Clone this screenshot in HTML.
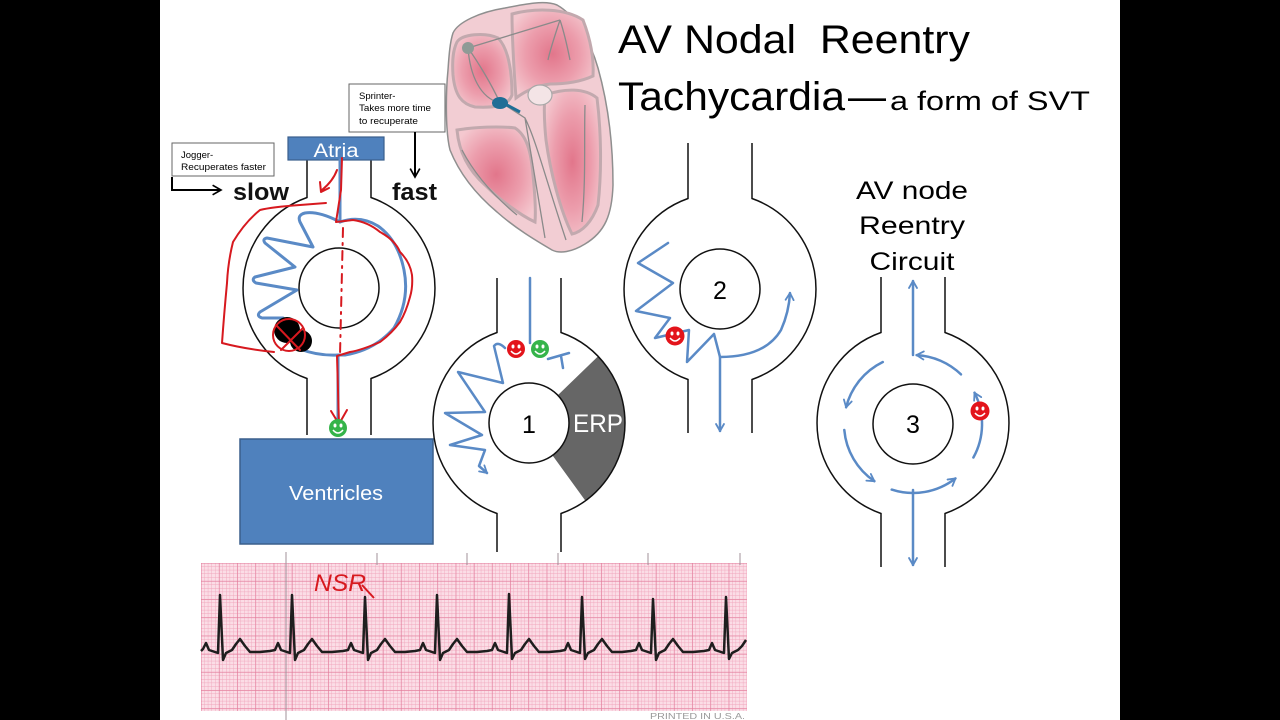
<!DOCTYPE html>
<html>
<head>
<meta charset="utf-8">
<style>
  html,body{margin:0;padding:0;background:#000;}
  svg{display:block;}
  text{font-family:"Liberation Sans", Arial, sans-serif;}
</style>
</head>
<body>
<svg width="1280" height="720" viewBox="0 0 1280 720" xmlns="http://www.w3.org/2000/svg">
  <defs>
    <marker id="ab" viewBox="0 0 10 10" refX="8" refY="5" markerWidth="4" markerHeight="4" orient="auto" markerUnits="strokeWidth">
      <path d="M1,1 L8,5 L1,9" fill="none" stroke="#5a8ac6" stroke-width="1.8" stroke-linecap="round" stroke-linejoin="round"/>
    </marker>
    <marker id="ak" viewBox="0 0 10 10" refX="8" refY="5" markerWidth="6" markerHeight="6" orient="auto" markerUnits="strokeWidth">
      <path d="M1,1 L8,5 L1,9" fill="none" stroke="#000" stroke-width="1.4"/>
    </marker>
    <radialGradient id="ch" cx="50%" cy="50%" r="60%">
      <stop offset="0" stop-color="#e2768b"/>
      <stop offset="0.55" stop-color="#ec9dac"/>
      <stop offset="1" stop-color="#f4c8cf"/>
    </radialGradient>
    <pattern id="sg" x="201" y="563" width="3.64" height="3.64" patternUnits="userSpaceOnUse">
      <path d="M3.64,0 V3.64 M0,3.64 H3.64" stroke="#f0a3ba" stroke-width="0.8" fill="none"/>
    </pattern>
    <pattern id="bgp" x="201" y="563" width="18.2" height="18.2" patternUnits="userSpaceOnUse">
      <path d="M0,0 V18.2 M0,0 H18.2" stroke="#e07898" stroke-width="1" fill="none"/>
    </pattern>
    <g id="smile">
      <ellipse cx="-3" cy="-2.5" rx="1.5" ry="2" fill="#fff"/>
      <ellipse cx="3" cy="-2.5" rx="1.5" ry="2" fill="#fff"/>
      <path d="M-5,2 Q0,8 5,2" stroke="#fff" stroke-width="1.5" fill="none"/>
    </g>
  </defs>

  <!-- background -->
  <rect x="0" y="0" width="1280" height="720" fill="#000"/>
  <rect x="160" y="0" width="960" height="720" fill="#fff"/>

  <!-- HEART -->
  <g>
    <path d="M453,33 C458,22 480,12 505,8 C525,4 545,0 557,5 C575,15 590,40 598,68 C607,100 613,140 613,185 C612,215 605,232 585,244 C572,252 560,254 552,250 C535,240 515,228 497,212 C478,196 460,175 450,150 C445,130 446,90 448,70 C449,55 450,42 453,33 Z" fill="#f2cdd3" stroke="#8f8f8f" stroke-width="1.5"/>
    <path d="M457,42 C462,34 485,32 498,38 C508,48 512,70 512,95 C508,106 495,108 475,107 C462,104 455,96 453,75 C452,60 453,50 457,42 Z" fill="url(#ch)" stroke="#c2a9ae" stroke-width="3"/>
    <path d="M512,14 C535,8 565,8 583,20 C590,38 594,58 593,76 C580,82 565,84 550,84 C535,86 524,92 516,98 C514,70 512,40 512,14 Z" fill="url(#ch)" stroke="#c2a9ae" stroke-width="3"/>
    <path d="M457,130 C475,127 500,126 515,128 C526,135 531,150 533,175 C535,195 536,210 535,222 C520,215 500,200 485,185 C468,170 459,152 457,130 Z" fill="url(#ch)" stroke="#c2a9ae" stroke-width="3"/>
    <path d="M545,95 C565,88 585,88 597,98 C601,130 602,170 598,205 C592,222 582,232 572,234 C560,210 550,170 546,140 C544,120 544,105 545,95 Z" fill="url(#ch)" stroke="#c2a9ae" stroke-width="3"/>
    <!-- conduction lines -->
    <path d="M468,48 C478,62 492,85 500,103 M468,48 C470,75 480,98 500,103 M468,48 L560,20 M505,105 L525,118 C530,150 537,190 545,238 M525,118 C536,140 546,180 566,240 M462,150 C475,175 495,197 517,215 M560,20 C555,35 550,50 548,60 M560,20 C565,35 568,50 570,60 M585,105 C584,140 586,180 582,222" fill="none" stroke="#8a8a8a" stroke-width="1.3"/>
    <ellipse cx="540" cy="95" rx="12" ry="10" fill="#f4e4e6" stroke="#a8a8a8" stroke-width="1.2"/>
    <circle cx="468" cy="48" r="6" fill="#8f9a96"/>
    <ellipse cx="500" cy="103" rx="8" ry="6" fill="#1f6e96"/>
    <path d="M505,104 L520,112" stroke="#1f6e96" stroke-width="3"/>
  </g>

  <!-- TITLE -->
  <text x="618" y="53" font-size="40" fill="#000" textLength="352" lengthAdjust="spacingAndGlyphs">AV Nodal&#160; Reentry</text>
  <text x="618" y="110" font-size="40" fill="#000" textLength="227" lengthAdjust="spacingAndGlyphs">Tachycardia</text>
  <text x="848" y="110" font-size="40" fill="#000" textLength="38" lengthAdjust="spacingAndGlyphs">—</text>
  <text x="890" y="110" font-size="27" fill="#000" textLength="200" lengthAdjust="spacingAndGlyphs">a form of SVT</text>

  <!-- ========== DIAGRAM 0 ========== -->
  <g fill="none" stroke="#111" stroke-width="1.5">
    <path d="M307,160 L307,197.5 A96,96 0 0 0 307,378.5 L307,435"/>
    <path d="M371,160 L371,197.5 A96,96 0 0 1 371,378.5 L371,435"/>
    <circle cx="339" cy="288" r="40" fill="#fff"/>
  </g>
  <rect x="288" y="137" width="96" height="23" fill="#4f81bd" stroke="#3a5f8c" stroke-width="1.2"/>
  <text x="336" y="157" font-size="19" fill="#fff" text-anchor="middle" textLength="45" lengthAdjust="spacingAndGlyphs">Atria</text>
  <rect x="240" y="439" width="193" height="105" fill="#4f81bd" stroke="#3a5f8c" stroke-width="1.5"/>
  <text x="336" y="500" font-size="20" fill="#fff" text-anchor="middle" textLength="94" lengthAdjust="spacingAndGlyphs">Ventricles</text>

  <text x="233" y="200" font-size="24" font-weight="bold" fill="#111" textLength="56" lengthAdjust="spacingAndGlyphs">slow</text>
  <text x="392" y="200" font-size="24" font-weight="bold" fill="#111" textLength="45" lengthAdjust="spacingAndGlyphs">fast</text>

  <!-- jogger box -->
  <rect x="172" y="143" width="102" height="33" fill="#fff" stroke="#666" stroke-width="1"/>
  <text x="181" y="158" font-size="9.5" fill="#000">Jogger-</text>
  <text x="181" y="170" font-size="9.5" fill="#000" textLength="85" lengthAdjust="spacingAndGlyphs">Recuperates faster</text>
  <path d="M172,177 L172,190 L221,190" fill="none" stroke="#000" stroke-width="2" marker-end="url(#ak)"/>

  <!-- sprinter box -->
  <rect x="349" y="84" width="96" height="48" fill="#fff" stroke="#666" stroke-width="1"/>
  <text x="359" y="99" font-size="9.5" fill="#000">Sprinter-</text>
  <text x="359" y="111" font-size="9.5" fill="#000" textLength="72" lengthAdjust="spacingAndGlyphs">Takes more time</text>
  <text x="359" y="124" font-size="9.5" fill="#000" textLength="59" lengthAdjust="spacingAndGlyphs">to recuperate</text>
  <path d="M415,132 L415,177" fill="none" stroke="#000" stroke-width="2" marker-end="url(#ak)"/>

  <!-- blue paths diagram 0 -->
  <g fill="none" stroke="#5a8ac6" stroke-width="3" stroke-linejoin="round" stroke-linecap="round">
    <path d="M340,160 L340,222"/>
    <path d="M340,222 Q360,215 378,226 Q398,240 404,270 Q410,300 394,328 Q375,350 345,355 L338,355 L338,418"/>
    <path d="M338,221 Q318,211 305,213 Q297,215 300,222 L313,247 L267,238 Q262,239 265,243 L295,267 L255,277 Q251,280 256,283 L297,290 L260,312 Q256,316 262,318 L283,318"/>
    <path d="M300,349 Q318,356 338,355"/>
  </g>

  <!-- blob -->
  <circle cx="287" cy="330" r="13" fill="#000"/>
  <circle cx="301" cy="341" r="11" fill="#000"/>

  <!-- red annotations -->
  <g fill="none" stroke="#d7191f" stroke-width="2" stroke-linecap="round" stroke-linejoin="round">
    <path d="M326,203 L300,205 Q272,207 260,210 Q245,222 233,242 Q228,262 227,283 Q224,315 222,343 Q245,349 274,352"/>
    <path d="M342,158 L341,190 L336,222 L353,220 Q368,222 380,232 Q395,240 400,252 Q410,262 412,275 Q413,287 410,297 Q406,312 400,322 Q392,333 380,342 Q362,350 350,352 L337,356 L339,424"/>
    <path d="M331,411 L339,424 L347,410"/>
    <path d="M343,228 L340,355" stroke-dasharray="9 6 2 6"/>
    <path d="M337,170 Q333,181 322,190 M320,182 L321,192 L329,188"/>
    <circle cx="289" cy="335" r="16"/>
    <path d="M276,325 L300,350 M281,350 L303,328"/>
  </g>

  <!-- green smiley diag0 -->
  <g transform="translate(338,428)"><circle r="9" fill="#35b44a"/><use href="#smile"/></g>

  <!-- ========== DIAGRAM 1 ========== -->
  <path d="M557.8,395.2 L598.1,356.3 A96,96 0 0 1 585.4,500.7 L552.5,455.4 A40,40 0 0 0 557.8,395.2 Z" fill="#666"/>
  <g fill="none" stroke="#111" stroke-width="1.5">
    <path d="M497,278 L497,332.5 A96,96 0 0 0 497,513.5 L497,552"/>
    <path d="M561,278 L561,332.5 A96,96 0 0 1 561,513.5 L561,552"/>
    <circle cx="529" cy="423" r="40" fill="#fff"/>
  </g>
  <text x="529" y="433" font-size="25" fill="#000" text-anchor="middle">1</text>
  <text x="598" y="432" font-size="25" fill="#fff" text-anchor="middle" textLength="50" lengthAdjust="spacingAndGlyphs">ERP</text>
  <g fill="none" stroke="#5a8ac6" stroke-width="2.5" stroke-linejoin="round" stroke-linecap="round">
    <path d="M530,278 L530,343"/>
    <path d="M505,348 Q498,341 494,346 L503,383 L458,372 L485,412 L445,413 L482,435 L450,445 L485,450 L479,466 L487,473" marker-end="url(#ab)"/>
    <path d="M548,359 L569,353 M561,356 L563,368"/>
  </g>
  <g transform="translate(516,349)"><circle r="9" fill="#e3141b"/><use href="#smile"/></g>
  <g transform="translate(540,349)"><circle r="9" fill="#35b44a"/><use href="#smile"/></g>

  <!-- ========== DIAGRAM 2 ========== -->
  <g fill="none" stroke="#111" stroke-width="1.5">
    <path d="M688,143 L688,198.5 A96,96 0 0 0 688,379.5 L688,433"/>
    <path d="M752,143 L752,198.5 A96,96 0 0 1 752,379.5 L752,433"/>
    <circle cx="720" cy="289" r="40" fill="#fff"/>
  </g>
  <text x="720" y="299" font-size="25" fill="#000" text-anchor="middle">2</text>
  <g fill="none" stroke="#5a8ac6" stroke-width="2.5" stroke-linejoin="round" stroke-linecap="round">
    <path d="M668,243 L638,263 L673,283 L636,311 L670,318 L655,338 L689,330 L687,362 L714,334 L720,357 Q765,357 781,330 Q789,312 790,293" marker-end="url(#ab)"/>
    <path d="M720,357 L720,431" marker-end="url(#ab)"/>
  </g>
  <g transform="translate(675,336)"><circle r="9.5" fill="#e3141b"/><use href="#smile"/></g>

  <!-- ========== DIAGRAM 3 ========== -->
  <text x="912" y="199" font-size="25" fill="#000" text-anchor="middle" textLength="112" lengthAdjust="spacingAndGlyphs">AV node</text>
  <text x="912" y="234" font-size="25" fill="#000" text-anchor="middle" textLength="106" lengthAdjust="spacingAndGlyphs">Reentry</text>
  <text x="912" y="270" font-size="25" fill="#000" text-anchor="middle" textLength="85" lengthAdjust="spacingAndGlyphs">Circuit</text>
  <g fill="none" stroke="#111" stroke-width="1.5">
    <path d="M881,277 L881,332.5 A96,96 0 0 0 881,513.5 L881,567"/>
    <path d="M945,277 L945,332.5 A96,96 0 0 1 945,513.5 L945,567"/>
    <circle cx="913" cy="424" r="40" fill="#fff"/>
  </g>
  <text x="913" y="433" font-size="25" fill="#000" text-anchor="middle">3</text>
  <g fill="none" stroke="#5a8ac6" stroke-width="2.5" stroke-linecap="round">
    <path d="M913,355 L913,281" marker-end="url(#ab)"/>
    <path d="M913,490 L913,565" marker-end="url(#ab)"/>
    <path d="M961.0,374.4 A69,69 0 0 0 916.6,355.1" marker-end="url(#ab)"/>
    <path d="M882.8,362.0 A69,69 0 0 0 846.1,407.3" marker-end="url(#ab)"/>
    <path d="M844.3,430.0 A69,69 0 0 0 874.4,481.2" marker-end="url(#ab)"/>
    <path d="M891.7,489.6 A69,69 0 0 0 955.5,478.4" marker-end="url(#ab)"/>
    <path d="M973.4,457.5 A69,69 0 0 0 974.5,392.7" marker-end="url(#ab)"/>
  </g>
  <g transform="translate(980,411)"><circle r="9.5" fill="#e3141b"/><use href="#smile"/></g>

  <!-- ========== ECG STRIP ========== -->
  <rect x="201" y="563" width="546" height="148" fill="#fbdde6"/>
  <rect x="201" y="563" width="546" height="148" fill="url(#sg)"/>
  <rect x="201" y="563" width="546" height="148" fill="url(#bgp)"/>
  <g stroke="#a0909a" stroke-width="1">
    <path d="M286,552 V720 M377,553 V565 M467,553 V565 M558,553 V565 M648,553 V565 M740,553 V565"/>
  </g>
  <path fill="none" stroke="#1e1e1e" stroke-width="2.5" stroke-linejoin="round"
    d="M201,651 L203,649 L206,643 L209,650 L215,652 L218,653 L220,595 L223,660 L226,653 L232,650 L236,644 L240,639 L245,646 L250,652 L260,652
       L270,651 L275,650 L278,643 L281,650 L287,652 L290,653 L292,595 L295,660 L298,653 L304,650 L308,644 L312,639 L317,646 L322,652 L332,652
       L343,651 L348,650 L351,643 L354,650 L360,652 L363,653 L365,597 L368,660 L371,653 L377,650 L381,644 L385,639 L390,646 L395,652 L405,652
       L415,651 L420,650 L423,643 L426,650 L432,652 L435,653 L437,595 L440,660 L443,653 L449,650 L453,644 L457,639 L462,646 L467,652 L477,652
       L487,651 L492,650 L495,643 L498,650 L504,652 L507,653 L509,594 L512,659 L515,653 L521,650 L525,644 L529,639 L534,646 L539,652 L549,652
       L560,651 L565,650 L568,643 L571,650 L577,652 L580,653 L582,597 L585,659 L588,653 L594,650 L598,644 L602,639 L607,646 L612,652 L622,652
       L631,651 L636,650 L639,643 L642,650 L648,652 L651,653 L653,599 L656,660 L659,653 L665,650 L669,644 L673,639 L678,646 L683,652 L693,652
       L704,651 L709,650 L712,643 L715,650 L721,652 L724,653 L726,597 L729,659 L732,653 L738,650 L742,646 L746,640"/>
  <text x="650" y="719" font-size="8" fill="#999" textLength="95" lengthAdjust="spacingAndGlyphs">PRINTED IN U.S.A.</text>

  <!-- NSR annotation -->
  <text x="314" y="591" font-size="24" fill="#d7191f" textLength="52" lengthAdjust="spacingAndGlyphs" font-style="italic">NSR</text>
  <path d="M362,585 L374,598" stroke="#d7191f" stroke-width="2" fill="none"/>
</svg>
</body>
</html>
